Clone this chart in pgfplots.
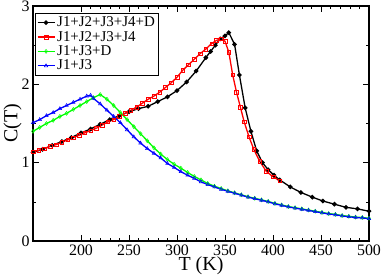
\documentclass[border=0pt]{standalone}
\usepackage{pgfplots}
\pgfplotsset{compat=1.18}
\usepackage{fontspec}
\setmainfont{Liberation Serif}
\definecolor{ggreen}{RGB}{0,255,0}
\definecolor{gred}{RGB}{255,0,0}
\definecolor{gblue}{RGB}{0,0,255}
\begin{document}
\begin{tikzpicture}
\begin{axis}[
  scale only axis,
  width=336bp, height=235bp,
  xmin=150, xmax=500, ymin=0, ymax=3,
  xtick={200,250,300,350,400,450,500},
  ytick={0,1,2,3},
  minor x tick num=4,
  minor y tick num=1,
  tick align=inside,
  major tick length=6bp, minor tick length=3bp,
  axis line style={line width=1.3pt},
  every tick/.style={black, line width=0.6pt},
  /pgf/number format/assume math mode=true,
  ticklabel style={font=\fontsize{16}{16}\selectfont},
  xlabel={T (K)}, ylabel={C(T)},
  label style={font=\fontsize{20}{20}\selectfont},
  xlabel style={yshift=5bp},
  ylabel style={yshift=-7bp},
  legend cell align=left,
  legend style={at={(0.006,0.97)}, anchor=north west, font=\fontsize{15}{15}\selectfont,
    draw=black, line width=0.8pt, inner sep=1.5pt, row sep=-1pt},
  legend image post style={line width=1.3pt},
]
\addplot[black, line width=1.3pt, mark=*, mark size=1.6pt] coordinates {
(150,1.13)(160,1.17)(170,1.22)(180,1.27)(190,1.32)(200,1.38)(210,1.43)(220,1.49)(230,1.55)(240,1.60)(250,1.65)(260,1.69)(270,1.72)(280,1.78)(290,1.84)(300,1.92)(310,2.03)(320,2.17)(330,2.34)(335,2.42)(340,2.50)(345,2.58)(350,2.62)(354,2.66)(360,2.51)(365,2.12)(371,1.70)(377,1.40)(383,1.15)(389,1.00)(395,0.91)(401,0.84)(407,0.78)(418,0.69)(429,0.62)(441,0.56)(452,0.51)(464,0.47)(476,0.43)(488,0.41)(500,0.38)
};
\addlegendentry{J1+J2+J3+J4+D}
\addplot[gred, line width=1.3pt, mark=square, mark size=1.8pt, mark options={line width=0.5pt}] coordinates {
(150,1.14)(156,1.16)(162,1.18)(168,1.21)(174,1.23)(180,1.26)(186,1.29)(192,1.32)(198,1.35)(204,1.38)(210,1.41)(216,1.44)(222,1.48)(228,1.52)(234,1.55)(240,1.59)(246,1.63)(252,1.67)(258,1.71)(264,1.76)(270,1.81)(276,1.85)(282,1.90)(288,1.96)(294,2.02)(300,2.09)(306,2.18)(312,2.25)(318,2.32)(324,2.39)(330,2.45)(336,2.52)(341,2.56)(346,2.58)(350,2.55)(354,2.41)(358,2.12)(362,1.90)(366,1.71)(370,1.52)(375,1.33)(380,1.17)(386,1.02)(393,0.89)(400,0.82)(407,0.77)
};
\addlegendentry{J1+J2+J3+J4}
\addplot[ggreen, line width=1.3pt, mark=diamond, mark size=2pt, mark options={line width=0.5pt}] coordinates {
(150,1.40)(157,1.45)(164,1.50)(171,1.54)(178,1.59)(185,1.63)(192,1.68)(199,1.73)(206,1.78)(213,1.83)(220,1.87)(227,1.81)(234,1.73)(241,1.64)(248,1.55)(255,1.46)(262,1.37)(269,1.28)(276,1.19)(283,1.11)(290,1.04)(297,0.98)(304,0.93)(311,0.875)(318,0.825)(325,0.78)(332,0.735)(339,0.70)(346,0.67)(353,0.64)(360,0.615)(367,0.59)(374,0.565)(381,0.545)(388,0.525)(395,0.505)(402,0.48)(409,0.46)(416,0.44)(423,0.425)(430,0.41)(437,0.395)(444,0.38)(451,0.365)(458,0.35)(465,0.34)(472,0.325)(479,0.315)(486,0.305)(493,0.30)(500,0.29)
};
\addlegendentry{J1+J3+D}
\addplot[gblue, line width=1.3pt, mark=triangle, mark size=2pt, mark options={line width=0.5pt}] coordinates {
(150,1.51)(157,1.55)(164,1.60)(171,1.64)(178,1.69)(185,1.73)(192,1.77)(199,1.81)(206,1.85)(210,1.86)(213,1.82)(220,1.75)(227,1.67)(234,1.59)(241,1.51)(248,1.42)(255,1.33)(262,1.25)(269,1.18)(276,1.12)(283,1.06)(290,0.99)(297,0.94)(304,0.885)(311,0.84)(318,0.80)(325,0.755)(332,0.72)(339,0.69)(346,0.66)(353,0.635)(360,0.61)(367,0.585)(374,0.56)(381,0.54)(388,0.52)(395,0.50)(402,0.475)(409,0.455)(416,0.435)(423,0.42)(430,0.405)(437,0.39)(444,0.375)(451,0.36)(458,0.345)(465,0.335)(472,0.32)(479,0.31)(486,0.30)(493,0.295)(500,0.285)
};
\addlegendentry{J1+J3}
\end{axis}
\pgfresetboundingbox
\path ([shift={(-33bp,-38bp)}]current axis.south west) rectangle ([shift={(13bp,6bp)}]current axis.north east);
\end{tikzpicture}
\end{document}
